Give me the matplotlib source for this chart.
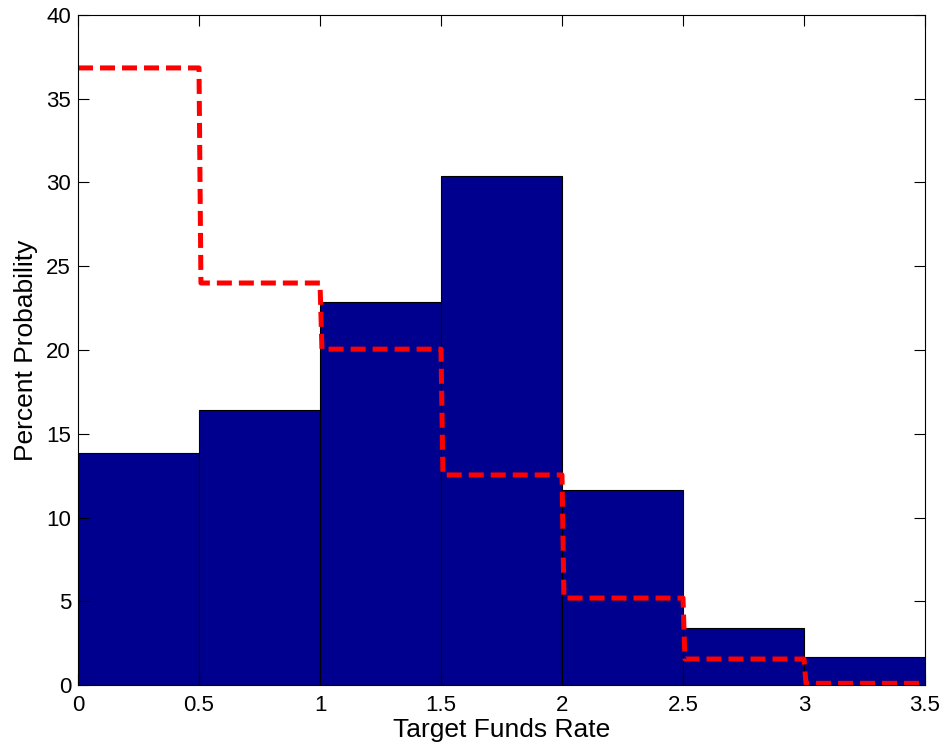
import matplotlib
matplotlib.use("Agg")
import matplotlib.pyplot as plt
import numpy as np

bin_edges = [0, 0.5, 1.0, 1.5, 2.0, 2.5, 3.0, 3.5]
bar_values = [13.85, 16.4, 22.85, 30.4, 11.62, 3.42, 1.65]
line_values = [36.84, 24.0, 20.05, 12.54, 5.19, 1.55, 0.1]
xticks = [0, 0.5, 1, 1.5, 2, 2.5, 3, 3.5]
xtick_labels = ["0", "0.5", "1", "1.5", "2", "2.5", "3", "3.5"]
yticks = [0, 5, 10, 15, 20, 25, 30, 35, 40]

plt.rcParams['font.family'] = ['Liberation Sans', 'DejaVu Sans']

fig = plt.figure(figsize=(9.43, 7.47), dpi=100)
ax = fig.add_axes([78/943, 62/747, (925-78)/943, (685-15)/747])

left = np.array(bin_edges[:-1])
widths = np.diff(bin_edges)
ax.bar(left, bar_values, width=widths, align='edge', color='#00008F',
       edgecolor='black', linewidth=0.8)

# step line with slight offset on drops
xs, ys = [], []
for i, v in enumerate(line_values):
    x0 = bin_edges[i] + (0.008 if i > 0 else 0)
    x1 = bin_edges[i + 1]
    xs += [x0, x1]
    ys += [v, v]
ax.plot(xs, ys, color='red', linewidth=3.6, linestyle=(0, (3.0, 1.4)))

ax.set_xlim(0, 3.5)
ax.set_ylim(0, 40)
ax.set_xticks(xticks)
ax.set_xticklabels(xtick_labels)
ax.set_yticks(yticks)
ax.tick_params(axis='x', pad=7)
ax.tick_params(direction='in', top=True, right=True, labelsize=16, length=8, width=0.8)
ax.tick_params(axis='y', pad=5)
ax.set_xlabel('Target Funds Rate', fontsize=19, labelpad=2)
ax.set_ylabel('Percent Probability', fontsize=19, labelpad=6)
for s in ax.spines.values():
    s.set_linewidth(0.8)

fig.savefig('out.png', dpi=100)
